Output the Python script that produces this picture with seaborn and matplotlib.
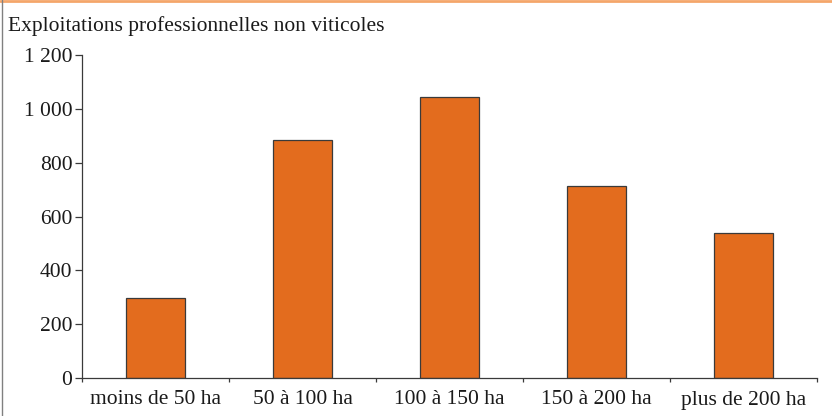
import matplotlib
matplotlib.use("Agg")
import matplotlib.pyplot as plt
from matplotlib.lines import Line2D
import seaborn as sns
import pandas as pd

categories = ["moins de 50 ha", "50 à 100 ha", "100 à 150 ha", "150 à 200 ha", "plus de 200 ha"]
values = [297, 885, 1044, 714, 539]
y_ticks = [0, 200, 400, 600, 800, 1000, 1200]
y_labels = ["0", "200", "400", "600", "800", "1 000", "1 200"]
title = "Exploitations professionnelles non viticoles"

sns.set_style("white")
plt.rcParams["font.family"] = ["Liberation Serif", "DejaVu Serif"]

df = pd.DataFrame({"cat": categories, "val": values})

fig = plt.figure(figsize=(8.32, 4.16), dpi=100)
ax = fig.add_axes([82 / 832, 38 / 416, 735 / 832, 323 / 416])

sns.barplot(data=df, x="cat", y="val", color="#E36C1E", saturation=1,
            width=0.4, edgecolor="#3a3a3a", linewidth=0.9, ax=ax)

ax.set_xlim(-0.5, len(categories) - 0.5)
ax.set_ylim(0, 1200)
ax.set_yticks(y_ticks)
ax.set_yticklabels(y_labels)
ax.set_xlabel("")
ax.set_ylabel("")
ax.set_xticks([i - 0.5 for i in range(len(categories) + 1)], minor=True)

for s in ["top", "right"]:
    ax.spines[s].set_visible(False)
for s in ["left", "bottom"]:
    ax.spines[s].set_color("#3a3a3a")
    ax.spines[s].set_linewidth(0.9)

ax.tick_params(axis="y", which="major", direction="out", length=5, width=0.9,
               color="#3a3a3a", labelsize=15.5, pad=2, left=True,
               labelcolor="#1a1a1a")
ax.tick_params(axis="x", which="major", length=0, labelsize=15.5, pad=9,
               labelcolor="#1a1a1a")
ax.tick_params(axis="x", which="minor", direction="out", length=3, width=0.9,
               color="#3a3a3a", bottom=True)

fig.text(8 / 832, 1 - 26 / 416, title, fontsize=15.5, va="center", ha="left",
         color="#1a1a1a")

# frame lines
fig.add_artist(Line2D([0, 1], [0.998, 0.998], transform=fig.transFigure,
                      color="#F4A66A", linewidth=2))
fig.add_artist(Line2D([0.003, 0.003], [0, 1], transform=fig.transFigure,
                      color="#808080", linewidth=1))

fig.savefig("out.png", dpi=100)
